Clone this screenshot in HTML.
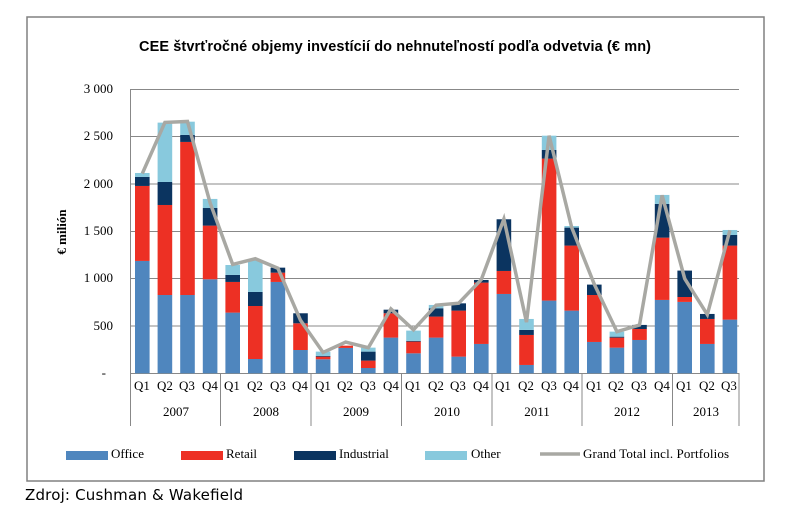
<!DOCTYPE html>
<html><head><meta charset="utf-8"><style>
body{margin:0;background:#fff;}
svg{display:block;}
.t{font-family:"Liberation Serif",serif;font-size:13px;fill:#000;}
</style></head><body>
<svg id="s" width="799" height="510" viewBox="0 0 799 510" xmlns="http://www.w3.org/2000/svg">
<rect x="27" y="17" width="737" height="464" fill="#fff" stroke="#808080" stroke-width="1.5"/>
<text x="395" y="51" text-anchor="middle" font-family="'Liberation Sans',sans-serif" font-size="14.5" font-weight="bold" textLength="512">CEE štvrťročné objemy investícií do  nehnuteľností podľa odvetvia  (€ mn)</text>
<g stroke="#888" stroke-width="1">
<line x1="130" y1="89.5" x2="739" y2="89.5"/>
<line x1="130" y1="136.5" x2="739" y2="136.5"/>
<line x1="130" y1="184" x2="739" y2="184"/>
<line x1="130" y1="231.5" x2="739" y2="231.5"/>
<line x1="130" y1="278.5" x2="739" y2="278.5"/>
<line x1="130" y1="326" x2="739" y2="326"/>
<line x1="130.5" y1="89" x2="130.5" y2="426"/>
<line x1="130" y1="373.5" x2="739" y2="373.5"/>
<line x1="220.5" y1="373" x2="220.5" y2="426"/>
<line x1="311" y1="373" x2="311" y2="426"/>
<line x1="401.5" y1="373" x2="401.5" y2="426"/>
<line x1="492" y1="373" x2="492" y2="426"/>
<line x1="582" y1="373" x2="582" y2="426"/>
<line x1="672.5" y1="373" x2="672.5" y2="426"/>
<line x1="739" y1="373" x2="739" y2="426"/>
</g>
<g class="t" text-anchor="end">
<text x="113" y="93">3 000</text><text x="113" y="140">2 500</text><text x="113" y="188">2 000</text>
<text x="113" y="235">1 500</text><text x="113" y="282">1 000</text><text x="113" y="330">500</text><text x="106" y="377">-</text>
</g>
<text transform="translate(66,232) rotate(-90)" text-anchor="middle" font-family="'Liberation Serif',serif" font-size="13" font-weight="bold">€ milión</text>
<g id="bars"></g>
<g class="t" text-anchor="middle" id="ql">
<text x="142" y="390">Q1</text><text x="165" y="390">Q2</text><text x="187" y="390">Q3</text><text x="210" y="390">Q4</text>
<text x="232" y="390">Q1</text><text x="255" y="390">Q2</text><text x="278" y="390">Q3</text><text x="300" y="390">Q4</text>
<text x="323" y="390">Q1</text><text x="345" y="390">Q2</text><text x="368" y="390">Q3</text><text x="391" y="390">Q4</text>
<text x="413" y="390">Q1</text><text x="436" y="390">Q2</text><text x="458" y="390">Q3</text><text x="481" y="390">Q4</text>
<text x="503" y="390">Q1</text><text x="526" y="390">Q2</text><text x="549" y="390">Q3</text><text x="571" y="390">Q4</text>
<text x="594" y="390">Q1</text><text x="616" y="390">Q2</text><text x="639" y="390">Q3</text><text x="662" y="390">Q4</text>
<text x="684" y="390">Q1</text><text x="707" y="390">Q2</text><text x="729" y="390">Q3</text>
<text x="176" y="416">2007</text><text x="266" y="416">2008</text><text x="356" y="416">2009</text>
<text x="447" y="416">2010</text><text x="537" y="416">2011</text><text x="627" y="416">2012</text><text x="706" y="416">2013</text>
</g>
<rect x="66" y="451" width="42" height="9" fill="#4f86be"/><text class="t" x="111" y="458">Office</text>
<rect x="181" y="451" width="42" height="9" fill="#ed3024"/><text class="t" x="226" y="458">Retail</text>
<rect x="294" y="451" width="42" height="9" fill="#0b3460"/><text class="t" x="339" y="458">Industrial</text>
<rect x="425" y="451" width="42" height="9" fill="#88c9dd"/><text class="t" x="471" y="458">Other</text>
<line x1="540" y1="454" x2="580" y2="454" stroke="#a8a8a3" stroke-width="3.5"/><text class="t" x="583" y="458" textLength="146">Grand Total incl. Portfolios</text>
<text x="25" y="500" font-family="'DejaVu Sans',sans-serif" font-size="15" textLength="218">Zdroj: Cushman &amp; Wakefield</text>
</svg>
<script>
var d=[[1187,1979,2074,2116,2110],[827,1778,2021,2648,2650],[827,2444,2518,2658,2660],[993,1560,1746,1842,1800],
[641,965,1039,1144,1150],[151,711,859,1197,1210],[965,1063,1116,1116,1110],[246,528,634,634,560],
[148,176,183,229,220],[268,292,292,292,330],[56,134,229,271,270],[377,634,672,672,680],
[211,335,342,451,460],[377,599,687,722,720],[176,662,739,739,740],[310,958,986,986,990],
[838,1081,1627,1627,1630],[88,405,458,574,540],[768,2268,2359,2510,2510],[662,1349,1539,1556,1540],
[331,827,937,937,940],[271,377,387,440,440],[352,468,511,511,510],[775,1433,1789,1884,1880],
[754,806,1085,1085,1000],[310,574,627,627,620],[567,1349,1461,1514,1510]];
var c=["#4f86be","#ed3024","#0b3460","#88c9dd"],g=document.getElementById("bars"),ns="http://www.w3.org/2000/svg";
function Y(v){return 373.3-v*284/3000;}
var pts=[];
d.forEach(function(r,i){var x=135+i*22.6,p=0;for(var k=0;k<4;k++){if(r[k]>p){var e=document.createElementNS(ns,"rect");e.setAttribute("x",x);e.setAttribute("width",14.6);e.setAttribute("y",Y(r[k]));e.setAttribute("height",Y(p)-Y(r[k]));e.setAttribute("fill",c[k]);g.appendChild(e);}p=r[k];}
pts.push((x+7.3)+","+Y(r[4]));});
var l=document.createElementNS(ns,"polyline");l.setAttribute("points",pts.join(" "));l.setAttribute("fill","none");l.setAttribute("stroke","#a8a8a3");l.setAttribute("stroke-width","3.5");l.setAttribute("stroke-linejoin","miter");g.appendChild(l);
</script>
</body></html>
